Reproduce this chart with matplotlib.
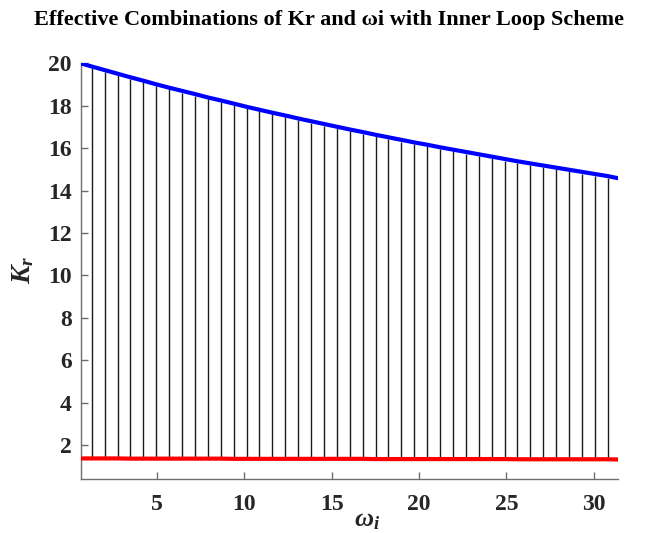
import numpy as np
import matplotlib
matplotlib.use("Agg")
import matplotlib.pyplot as plt

# Sampled frequencies (rad/s) at which feasible gain ranges were evaluated
omega_start, omega_end = 0.63, 31.4
omega_stems = np.linspace(1.26, 30.80, 41)
omega = np.concatenate(([omega_start], omega_stems, [omega_end]))

# Upper bound of Kr (blue) at each frequency
kr_upper = [20.00,
            19.85, 19.68, 19.51, 19.34, 19.18, 19.01, 18.85, 18.70, 18.55, 18.39,
            18.25, 18.10, 17.95, 17.81, 17.67, 17.54, 17.40, 17.27, 17.14, 17.01,
            16.88, 16.76, 16.63, 16.51, 16.39, 16.27, 16.16, 16.04, 15.93, 15.82,
            15.71, 15.60, 15.49, 15.38, 15.28, 15.18, 15.08, 14.98, 14.88, 14.78,
            14.68,
            14.58]

# Lower bound of Kr (red) at each frequency
kr_lower = [1.37,
            1.37, 1.37, 1.37, 1.36, 1.36, 1.36, 1.36, 1.36, 1.36, 1.36,
            1.36, 1.35, 1.35, 1.35, 1.35, 1.35, 1.35, 1.35, 1.35, 1.35,
            1.35, 1.35, 1.34, 1.34, 1.34, 1.34, 1.34, 1.34, 1.34, 1.34,
            1.34, 1.34, 1.34, 1.33, 1.33, 1.33, 1.33, 1.33, 1.33, 1.33,
            1.33,
            1.32]

x_ticks = [5, 10, 15, 20, 25, 30]
y_ticks = [2, 4, 6, 8, 10, 12, 14, 16, 18, 20]

serif = ["Liberation Serif", "DejaVu Serif"]
plt.rcParams["mathtext.fontset"] = "custom"
plt.rcParams["mathtext.it"] = "Liberation Serif:italic:bold"
plt.rcParams["mathtext.rm"] = "Liberation Serif:bold"

W, H = 649, 533
left, right, top, bottom = 80.7, 618.3, 63.3, 479.0
fig = plt.figure(figsize=(W / 100, H / 100), dpi=100)
ax = fig.add_axes([left / W, 1 - bottom / H, (right - left) / W, (bottom - top) / H])

upper = np.array(kr_upper)
lower = np.array(kr_lower)
# vertical hatching between the two bounds
ax.vlines(omega[1:-1], lower[1:-1] + 0.07, upper[1:-1] - 0.08,
          color="#1a1a1a", linewidth=1.0, zorder=1)
ax.plot(omega, upper, color="#0000ff", linewidth=3.0, zorder=3,
        solid_capstyle="butt")
ax.plot(omega, lower, color="#ff0000", linewidth=3.0, zorder=3,
        solid_capstyle="butt")

ax.set_xlim(omega_start, omega_end)
ax.set_ylim(0.4, 20)
ax.set_xticks(x_ticks)
ax.set_yticks(y_ticks)

for side in ("top", "right"):
    ax.spines[side].set_visible(False)
for side in ("left", "bottom"):
    ax.spines[side].set_color("#6e6e6e")
    ax.spines[side].set_linewidth(1.0)

ax.tick_params(direction="in", length=5, width=1.0, color="#6e6e6e")
ax.tick_params(axis="x", pad=10.5)
ax.tick_params(axis="y", pad=6.5)
for lab in ax.get_xticklabels() + ax.get_yticklabels():
    lab.set_family(serif)
    lab.set_fontweight("bold")
    lab.set_fontsize(17)
    lab.set_color("#262626")

ax.set_xlabel(r"$\omega_i$", fontsize=19, color="#262626", va="top")
ax.xaxis.set_label_coords((367 - left) / (right - left), -(506 - bottom) / (bottom - top))
ax.set_ylabel(r"$K_r$", fontsize=20, color="#262626", va="center")
ax.yaxis.set_label_coords(-(left - 22) / (right - left), (bottom - 270) / (bottom - top))

fig.text(329.5 / W, 1 - 20 / H,
         "Effective Combinations of Kr and \u03c9i with Inner Loop Scheme",
         family=serif, fontweight="bold", fontsize=16, color="black",
         ha="center", va="center")

fig.savefig("out.png", dpi=100)
